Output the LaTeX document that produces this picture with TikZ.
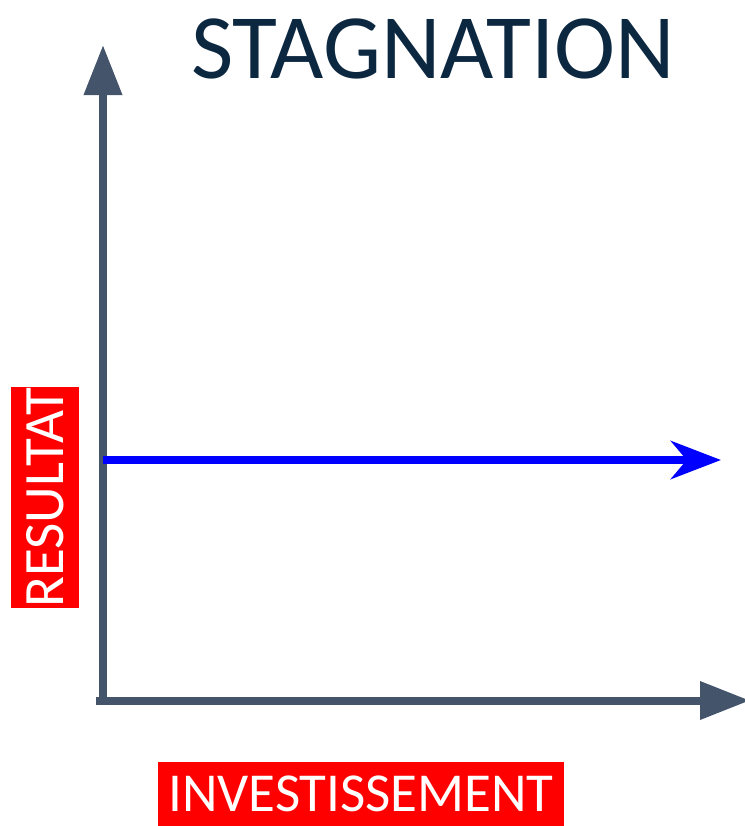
\documentclass[tikz,border=0pt]{standalone}
\usepackage{fontspec}
\setmainfont{Carlito}
\usepackage{tikz}
\usetikzlibrary{arrows.meta}

\definecolor{axisgray}{HTML}{44546A}
\definecolor{titlenavy}{HTML}{0C2740}

\begin{document}
\begin{tikzpicture}[x=0.75pt,y=-0.75pt,line width=6pt]
\tikzset{axis/.style={draw=axisgray,-{Triangle[length=37.5pt,width=27.5pt]}},
  trend/.style={draw=blue,-{Stealth[length=37.5pt,width=28.5pt,inset=11.8pt]}},
  tag/.style={fill=red,text=white,inner sep=0pt}}
\useasboundingbox (0,0) rectangle (744,826);

% ---------- axes ----------
\coordinate (O) at (103,700.5);
\coordinate (Ycorner) at (103,704);
\coordinate (Xcorner) at (96,700.5);
\coordinate (Ytop) at (103,45);
\coordinate (Xend) at (750,700.5);

\draw[axis] (Ycorner)--(Ytop);
\draw[axis] (Xcorner)--(Xend);

% ---------- flat result ----------
\coordinate (B1) at (103,460);
\coordinate (B2) at (721,460);
\draw[trend] (B1)--(B2);

% ---------- labels ----------
\node[anchor=base,text=titlenavy,font=\fontsize{69}{76}\selectfont] (title) at (433,78) {STAGNATION};
\node[tag,minimum width=304.5pt,minimum height=48pt,font=\fontsize{41.2}{46}\selectfont] (xlab) at (361,794) {INVESTISSEMENT};
\node[tag,rotate=90,minimum width=162.75pt,minimum height=51pt,font=\fontsize{42.8}{48}\selectfont] (ylab) at (45,497.5) {RESULTAT};

\end{tikzpicture}
\end{document}
